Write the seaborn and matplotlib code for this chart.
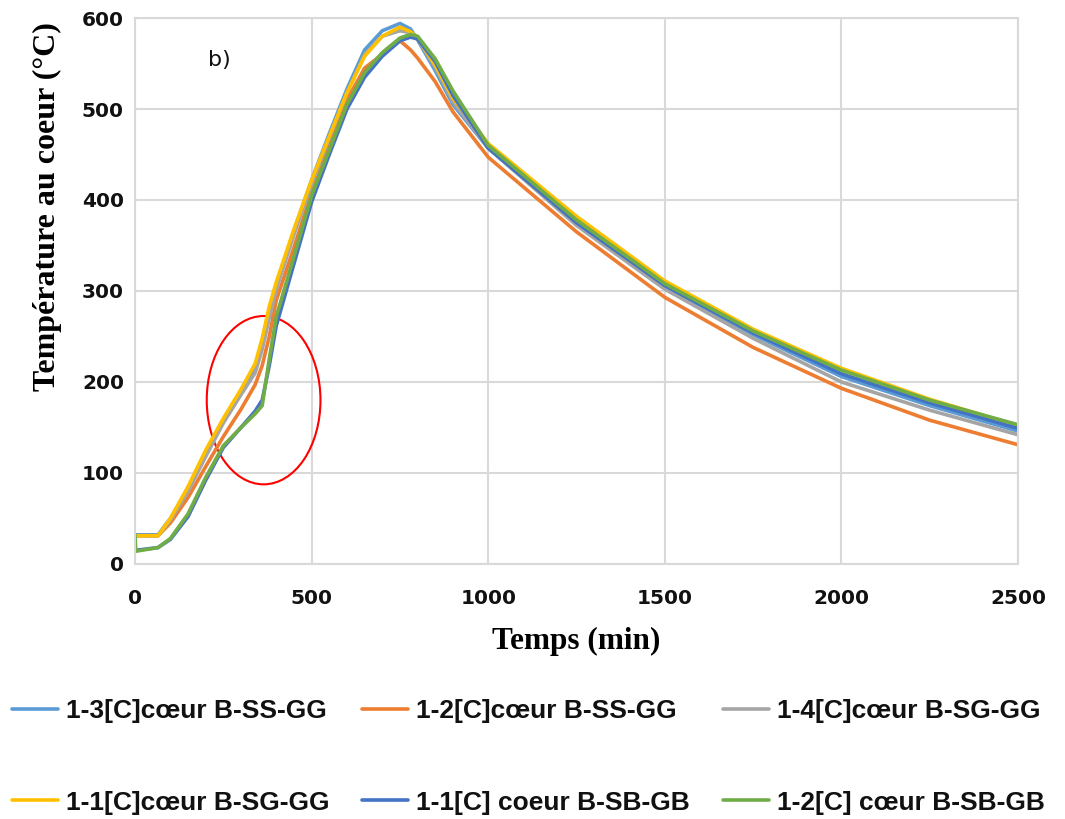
import pandas as pd
import seaborn as sns
import matplotlib.pyplot as plt
from matplotlib.patches import Ellipse

# Temps (min)
temps = [0, 2, 65, 100, 150, 200, 250, 300, 340, 360, 380, 400, 450, 500, 550, 600,
         650, 700, 750, 780, 800, 850, 900, 1000, 1250, 1500, 1750, 2000, 2250, 2500]

# Température au coeur (°C)
t_13_ss = [32, 32, 32, 50, 82, 121, 157, 188, 214, 242, 278, 306, 366, 422, 473, 522,
           565, 586, 594, 588, 576, 542, 505, 457, 374, 305, 252, 206, 174, 146]
t_12_ss = [31, 31, 31, 45, 73, 107, 140, 170, 197, 218, 250, 290, 348, 408, 460, 510,
           545, 560, 575, 565, 556, 530, 497, 447, 365, 293, 238, 193, 158, 131]
t_14_sg = [31, 31, 31, 48, 80, 118, 155, 186, 210, 236, 270, 302, 362, 418, 468, 518,
           560, 580, 586, 584, 577, 546, 508, 457, 372, 302, 248, 200, 169, 142]
t_11_sg = [31, 31, 31, 50, 85, 125, 160, 192, 220, 248, 283, 310, 368, 422, 470, 518,
           558, 580, 590, 585, 578, 548, 512, 462, 382, 311, 258, 215, 181, 152]
t_11_sb = [15, 15, 18, 27, 52, 92, 128, 150, 168, 180, 218, 262, 330, 398, 450, 500,
           535, 558, 575, 579, 577, 552, 515, 457, 375, 306, 254, 209, 177, 149]
t_12_sb = [32, 14, 18, 28, 55, 95, 130, 150, 165, 174, 225, 272, 338, 405, 455, 505,
           540, 562, 578, 582, 580, 555, 520, 460, 378, 308, 256, 213, 180, 153]

labels = ["1-3[C]cœur B-SS-GG", "1-2[C]cœur B-SS-GG", "1-4[C]cœur B-SG-GG",
          "1-1[C]cœur B-SG-GG", "1-1[C] coeur B-SB-GB", "1-2[C] cœur B-SB-GB"]
couleurs = ["#5B9BD5", "#ED7D31", "#A5A5A5", "#FFC000", "#4472C4", "#70AD47"]
series = [t_13_ss, t_12_ss, t_14_sg, t_11_sg, t_11_sb, t_12_sb]

frames = [pd.DataFrame({"temps": temps, "temp": s, "serie": lab})
          for s, lab in zip(series, labels)]
df = pd.concat(frames, ignore_index=True)

sns.set_theme(style="white")

fig = plt.figure(figsize=(10.65, 8.19), dpi=100)
ax = fig.add_axes([0.1268, 0.3114, 0.8291, 0.6666])

sns.lineplot(data=df, x="temps", y="temp", hue="serie", hue_order=labels,
             palette=couleurs, estimator=None, errorbar=None, sort=False,
             linewidth=2.6, legend=False, ax=ax)

ax.set_xlim(0, 2500)
ax.set_ylim(0, 600)
ax.set_xticks(range(0, 2501, 500))
ax.set_yticks(range(0, 601, 100))
ax.grid(True, color="#D9D9D9", linewidth=1.5)
ax.set_axisbelow(True)
for sp in ax.spines.values():
    sp.set_color("#D9D9D9")
    sp.set_linewidth(1.5)
ax.tick_params(axis="x", length=0, pad=18)
ax.tick_params(axis="y", length=0, pad=8)
for lab in ax.get_xticklabels() + ax.get_yticklabels():
    lab.set_fontsize(14.5)
    lab.set_fontweight("bold")
    lab.set_color("#111111")

ax.set_xlabel("Temps (min)", fontsize=22.5, fontweight="bold",
              family="Liberation Serif", labelpad=14, color="black")
ax.set_ylabel("Température au coeur (°C)", fontsize=23, fontweight="bold",
              family="Liberation Serif", color="black")
ax.yaxis.set_label_coords(-0.083, 0.654)

# zone entourée
ax.add_patch(Ellipse((364, 180), 322, 185, fill=False, edgecolor="red", linewidth=1.5))
ax.text(240, 554, "b)", fontsize=16, ha="center", va="center", color="#111111")

# légende: ordre ligne par ligne comme dans l'original
lignes = ax.get_lines()
ordre = [0, 3, 1, 4, 2, 5]
handles = [lignes[i] for i in ordre]
leg = fig.legend(handles, [labels[i] for i in ordre], ncol=3, loc="lower left",
                 bbox_to_anchor=(-0.004, -0.014), frameon=False, handlelength=1.75,
                 handletextpad=0.3, columnspacing=1.25, labelspacing=2.55,
                 borderaxespad=0.2,
                 prop={"family": "Liberation Sans", "weight": "bold", "size": 19})
for t in leg.get_texts():
    t.set_color("#111111")

fig.savefig("out.png", dpi=100)
